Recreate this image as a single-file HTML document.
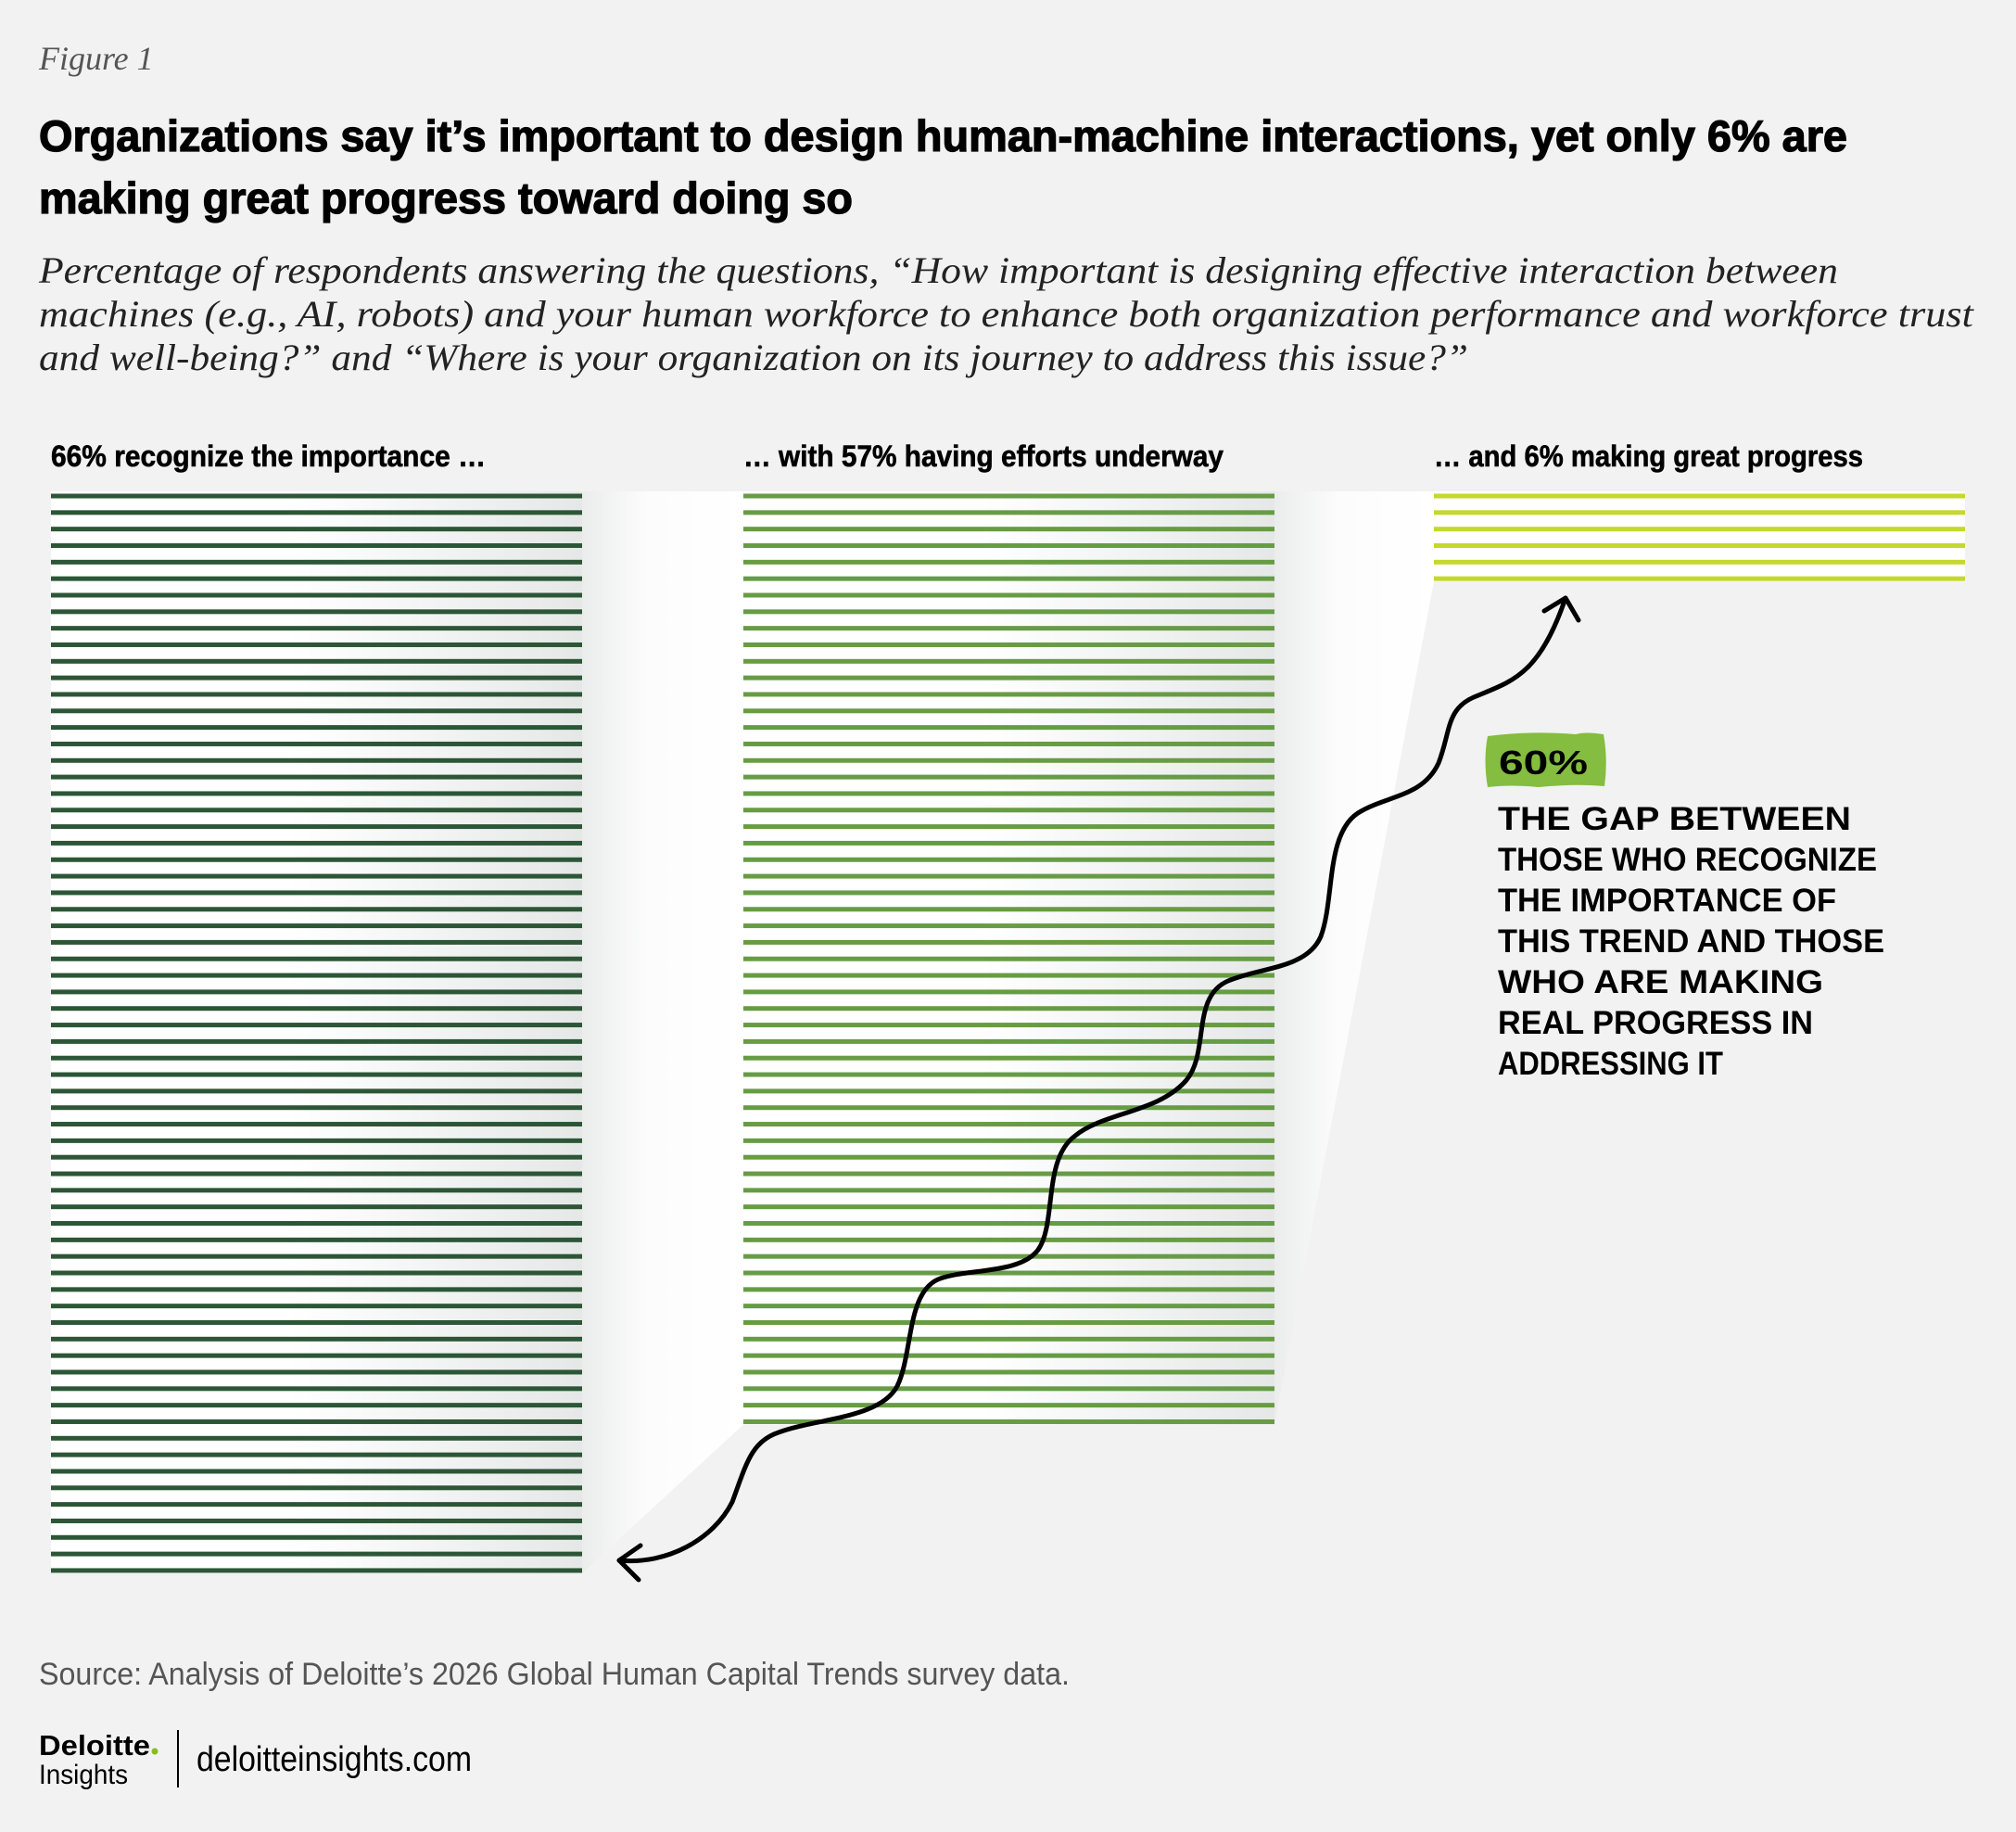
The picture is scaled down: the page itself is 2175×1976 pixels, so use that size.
<!DOCTYPE html>
<html><head><meta charset="utf-8"><style>
html,body{margin:0;padding:0;background:#f2f2f2}
svg{display:block}
</style></head><body>
<svg id="chart" width="2175" height="1976" viewBox="0 0 2175 1976" xmlns="http://www.w3.org/2000/svg">
<defs>
<linearGradient id="blk" x1="0" x2="1" y1="0" y2="0">
<stop offset="0" stop-color="#ffffff"/><stop offset="0.45" stop-color="#ffffff"/><stop offset="1" stop-color="#e6e8e8"/>
</linearGradient>
<linearGradient id="gap" x1="0" x2="1" y1="0" y2="0">
<stop offset="0" stop-color="#ebecec"/><stop offset="0.4" stop-color="#fcfcfc"/><stop offset="1" stop-color="#ffffff"/>
</linearGradient>
</defs>
<rect width="2175" height="1976" fill="#f2f2f2"/>
<text x="42" y="75" font-family="Liberation Serif, serif" font-style="italic" font-size="36" fill="#555">Figure 1</text>
<g font-family="'Liberation Sans Narrow', 'Liberation Sans', sans-serif" font-weight="bold" font-size="47" fill="#000" stroke="#000" stroke-width="1.3">
<text x="42" y="163" textLength="1951" lengthAdjust="spacingAndGlyphs">Organizations say it’s important to design human-machine interactions, yet only 6% are</text>
<text x="42" y="230" textLength="878" lengthAdjust="spacingAndGlyphs">making great progress toward doing so</text>
</g>
<g font-family="Liberation Serif, serif" font-style="italic" font-size="40" fill="#222">
<text x="42" y="305" textLength="1941" lengthAdjust="spacingAndGlyphs">Percentage of respondents answering the questions, “How important is designing effective interaction between</text>
<text x="42" y="352" textLength="2087" lengthAdjust="spacingAndGlyphs">machines (e.g., AI, robots) and your human workforce to enhance both organization performance and workforce trust</text>
<text x="42" y="399" textLength="1542" lengthAdjust="spacingAndGlyphs">and well-being?” and “Where is your organization on its journey to address this issue?”</text>
</g>
<g id="plot"></g>
<path d="M668,1683 C720,1688 770,1660 790,1620 C805,1580 810,1555 840,1545 C880,1530 950,1530 968,1495 C985,1460 978,1395 1012,1380 C1040,1368 1100,1375 1120,1348 C1140,1320 1125,1250 1160,1225 C1190,1200 1250,1200 1280,1165 C1305,1135 1285,1075 1325,1058 C1360,1043 1410,1045 1425,1010 C1440,970 1430,900 1465,877 C1495,858 1535,860 1552,823 C1565,790 1560,765 1590,752 C1630,735 1660,730 1689,645" fill="none" stroke="#000" stroke-width="5" stroke-linecap="round"/>
<path d="M691,1667 L668,1683 L689,1704 M1666,659 L1689,645 L1703,669" fill="none" stroke="#000" stroke-width="5" stroke-linecap="round" stroke-linejoin="round"/>
<path d="M1605,794 Q1650,788 1700,792 Q1710,789 1730,792 Q1735,820 1731,848 Q1700,845 1660,849 Q1630,846 1605,849 Q1600,820 1605,794 Z" fill="#84bd3f"/>
<text x="1617" y="835" font-family="'Liberation Sans', sans-serif" font-weight="bold" font-size="36" fill="#000" textLength="96" lengthAdjust="spacingAndGlyphs">60%</text>
<g font-family="'Liberation Sans', sans-serif" font-weight="bold" font-size="35" fill="#000">
<text x="1616" y="895" textLength="381" lengthAdjust="spacingAndGlyphs">THE GAP BETWEEN</text>
<text x="1616" y="939" textLength="409" lengthAdjust="spacingAndGlyphs">THOSE WHO RECOGNIZE</text>
<text x="1616" y="983" textLength="365" lengthAdjust="spacingAndGlyphs">THE IMPORTANCE OF</text>
<text x="1616" y="1027" textLength="417" lengthAdjust="spacingAndGlyphs">THIS TREND AND THOSE</text>
<text x="1616" y="1071" textLength="351" lengthAdjust="spacingAndGlyphs">WHO ARE MAKING</text>
<text x="1616" y="1115" textLength="340" lengthAdjust="spacingAndGlyphs">REAL PROGRESS IN</text>
<text x="1616" y="1159" textLength="243" lengthAdjust="spacingAndGlyphs">ADDRESSING IT</text>
</g>
<text x="42" y="1817" font-family="'Liberation Sans Narrow', 'Liberation Sans', sans-serif" font-size="34" fill="#555" textLength="1112" lengthAdjust="spacingAndGlyphs">Source: Analysis of Deloitte’s 2026 Global Human Capital Trends survey data.</text>
<text x="42" y="1893" font-family="'Liberation Sans', sans-serif" font-weight="bold" font-size="31" fill="#000" textLength="120" lengthAdjust="spacingAndGlyphs">Deloitte</text>
<circle cx="167" cy="1889" r="3.5" fill="#86bc25"/>
<text x="42" y="1924" font-family="'Liberation Sans Narrow', 'Liberation Sans', sans-serif" font-size="30" fill="#000" textLength="96" lengthAdjust="spacingAndGlyphs">Insights</text>
<line x1="192" y1="1866" x2="192" y2="1928" stroke="#000" stroke-width="2"/>
<text x="212" y="1910" font-family="'Liberation Sans Narrow', 'Liberation Sans', sans-serif" font-size="38" fill="#000" textLength="297" lengthAdjust="spacingAndGlyphs">deloitteinsights.com</text>
</svg>
<script>
const categories = ['66% recognize the importance …', '… with 57% having efforts underway', '… and 6% making great progress'];
const percentValues = [66, 57, 6];
const seriesColors = ['#2c5636', '#679c44', '#c4d82e'];
const headerWidths = [469, 518, 463];

const NS = 'http://www.w3.org/2000/svg';
const plot = document.getElementById('plot');
const colX = [55, 802, 1547];
const colW = 573;
const top0 = 535;
const step = 17.83;
function yPos(i) { return top0 + i * step; }
function bottomY(v) { return yPos(v - 1); }

function mk(tag, attrs) {
  const e = document.createElementNS(NS, tag);
  for (const k in attrs) e.setAttribute(k, attrs[k]);
  return e;
}
for (let c = 0; c < percentValues.length - 1; c++) {
  const x1 = colX[c] + colW, x2 = colX[c + 1];
  const pts = [[x1, top0 - 5], [x2, top0 - 5], [x2, bottomY(percentValues[c + 1]) + 3], [x1, bottomY(percentValues[c]) + 3]];
  const g = mk('polygon', { points: pts.map(p => p.join(',')).join(' '), fill: 'url(#gap)' });
  
  
  plot.appendChild(g);
}
percentValues.forEach((v, c) => {
  const last = c === percentValues.length - 1;
  const bg = mk('rect', { x: colX[c], y: top0 - 5, width: colW, height: bottomY(v) - top0 + 8, fill: last ? '#ffffff' : 'url(#blk)' });
  
  
  plot.appendChild(bg);
  const h = mk('text', { x: colX[c], y: 503, 'font-family': "'Liberation Sans Narrow', 'Liberation Sans', sans-serif", 'font-weight': 'bold', 'font-size': 32, fill: '#000', stroke: '#000', 'stroke-width': 0.6, textLength: headerWidths[c], lengthAdjust: 'spacingAndGlyphs' });
  h.textContent = categories[c];
  
  
  plot.appendChild(h);
  for (let i = 0; i < v; i++) {
    const r = mk('rect', { x: colX[c], y: yPos(i) - 2.5, width: colW, height: 5, fill: seriesColors[c] });
    
    
    plot.appendChild(r);
  }
});
</script>
</body></html>
